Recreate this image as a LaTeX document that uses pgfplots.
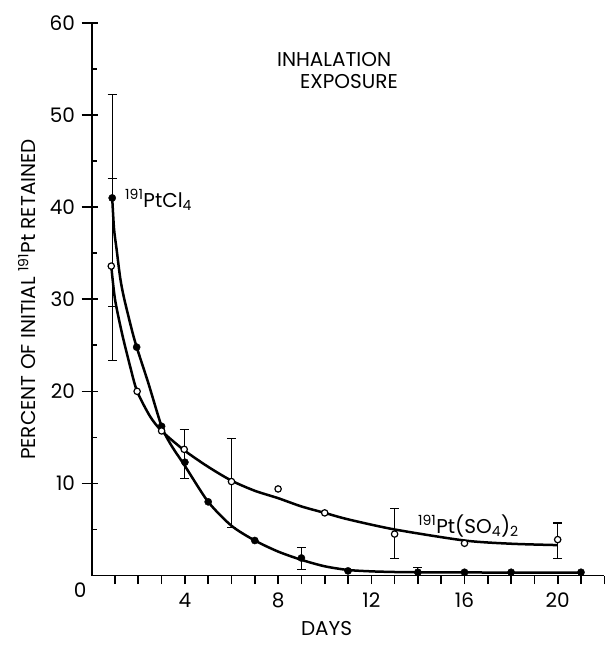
\documentclass[border=0pt]{standalone}
\usepackage{fontspec}
\setmainfont{Poppins}
\usepackage{pgfplots}
\pgfplotsset{compat=1.18}
\begin{document}
\begin{tikzpicture}[x=1pt,y=1pt,font=\fontsize{20}{24}\selectfont]
\useasboundingbox (-91.7,-69.5) rectangle (515.3,575.5);
\begin{axis}[
  at={(0,0)}, anchor=south west,
  scale only axis, width=512.6pt, height=552.5pt,
  xmin=0, xmax=22, ymin=0, ymax=60,
  axis lines*=left,
  axis line style={line width=1.9pt},
  clip=false,
  xtick={1,...,22},
  xticklabels={,,,4,,,,8,,,,12,,,,16,,,,20,,},
  ytick={10,20,30,40,50,60},
  yticklabels={10,20,30,40,50,60},
  tick align=outside,
  major tick length=8.5pt,
  xtick style={line width=1.6pt, black},
  ytick style={draw=none},
  xticklabel style={anchor=north, inner sep=0pt, yshift=-9pt},
  yticklabel style={anchor=east, inner sep=0pt, xshift=-8pt},
]
% y ticks
\pgfplotsinvokeforeach{10,20,30,40,50,60}{\draw[line width=1.6pt] ([xshift=-10pt]axis cs:0,#1) -- ([xshift=6pt]axis cs:0,#1);}
\pgfplotsinvokeforeach{5,15,25,35,45,55}{\draw[line width=1.6pt] (axis cs:0,#1) -- ([xshift=5.5pt]axis cs:0,#1);}

% fitted curves
\addplot[black, line width=2.5pt, smooth, tension=0.45] coordinates {
 (0.88,41) (0.96,37.6) (1.07,35.4) (1.23,32.2) (1.4,30) (1.72,26.7) (1.93,24.8)
 (2.43,20.9) (3,16.2) (3.4,14.2) (4,11.9) (5,8.0) (6,5.4) (7,3.8) (8,2.6)
 (9,1.7) (10,1.0) (11,0.6) (12,0.45) (13,0.38) (14,0.35) (16,0.33) (18,0.32) (21,0.3)};
\addplot[black, line width=2.5pt, smooth, tension=0.45] coordinates {
 (0.84,33.6) (1.0,30) (1.3,26.3) (1.65,22.7) (1.95,20) (2.5,17.3) (3,15.7)
 (3.97,13.6) (5,11.8) (6,10.3) (7,9.2) (8,8.4) (9,7.5) (10,6.8) (11,6.1)
 (13,5.0) (16,3.8) (18,3.45) (20,3.3)};

% error bars
\addplot[only marks, mark=none, black,
  error bars/.cd, y dir=both, y explicit,
  error bar style={line width=1.1pt},
  error mark options={rotate=90, mark size=4.5pt, line width=1.1pt}]
 coordinates {
 (0.88,41) += (0,11.2) -= (0,11.8)
 (9,1.9) += (0,1.1) -= (0,1.2)
 (14,0.35) += (0,0.5) -= (0,0)
 };
\addplot[only marks, mark=none, black,
  error bars/.cd, y dir=both, y explicit,
  error bar style={line width=1.1pt},
  error mark options={rotate=90, mark size=4.5pt, line width=1.1pt}]
 coordinates {
 (0.88,33.6) += (0,9.5) -= (0,10.3)
 (3.97,13.7) += (0,2.2) -= (0,3.2)
 (6,10.2) += (0,4.7) -= (0,5.0)
 (13,4.5) += (0,2.8) -= (0,2.7)
 (20,3.9) += (0,1.8) -= (0,2.1)
 };

% PtCl4 points (filled)
\addplot[only marks, mark=*, mark size=3.6pt, black] coordinates {
 (0.88,41) (1.93,24.8) (3,16.2) (4,12.3) (5,8.0) (7,3.8) (9,1.9)
 (11,0.5) (14,0.35) (16,0.35) (18,0.35) (21,0.35)};
% Pt(SO4)2 points (open)
\addplot[only marks, mark=*, mark size=3.2pt, draw=black, fill=white,
  mark options={line width=1.2pt, fill=white}] coordinates {
 (0.84,33.6) (1.95,20.0) (3,15.7) (3.97,13.7) (6,10.2) (8,9.4) (10,6.8)
 (13,4.5) (16,3.5) (20,3.9)};

% labels
\node[anchor=base west, inner sep=0pt] at (axis cs:1.43,40.0) {\textsuperscript{191}PtCl\textsubscript{4}};
\node[anchor=base west, inner sep=0pt] at (axis cs:14.0,4.6) {\textsuperscript{191}Pt(SO\textsubscript{4})\textsubscript{2}};
\node[anchor=west, inner sep=0pt] at (axis cs:7.95,56.0) {INHALATION};
\node[anchor=west, inner sep=0pt] at (axis cs:8.94,53.6) {EXPOSURE};
\node[inner sep=0pt] at ([yshift=-53pt]axis cs:10.08,0) {DAYS};
\node[inner sep=0pt] at ([xshift=-11.5pt,yshift=-15pt]axis cs:0,0) {0};
\end{axis}
\node[rotate=90, inner sep=0pt] at (-64.7,276) {PERCENT OF INITIAL \textsuperscript{191}Pt RETAINED};
\end{tikzpicture}
\end{document}
